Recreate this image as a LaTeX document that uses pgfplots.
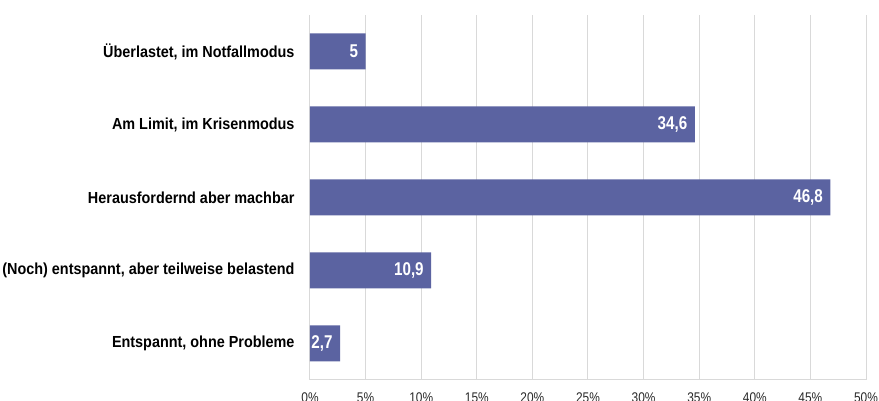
\documentclass[border=0pt]{standalone}
\usepackage{fontspec}
\setmainfont{Liberation Sans}[FakeStretch=0.85]
\newfontfamily\catfont{Liberation Sans}[FakeStretch=0.9]
\newfontfamily\valfont{Liberation Sans}[FakeStretch=0.82]
\usepackage{pgfplots}
\pgfplotsset{compat=1.18}
\definecolor{barc}{RGB}{91,99,161}
\definecolor{gridc}{RGB}{217,217,217}
\definecolor{tickc}{RGB}{40,40,40}
\begin{document}
\begin{tikzpicture}[x=1pt,y=1pt]
\useasboundingbox (0,0) rectangle (879,401);
\begin{scope}
\clip (0,0) rectangle (879,401);
\begin{axis}[
  at={(310pt,21pt)}, anchor=south west,
  scale only axis, width=556pt, height=365pt,
  xbar, bar width=36pt,
  xmin=0, xmax=50, ymin=-0.5, ymax=4.5,
  ytick={0,1,2,3,4},
  yticklabels={{Entspannt, ohne Probleme},{(Noch) entspannt, aber teilweise belastend},{Herausfordernd aber machbar},{Am Limit, im Krisenmodus},{Überlastet, im Notfallmodus}},
  xtick={0,5,...,50},
  xticklabel={\pgfmathprintnumber{\tick}\%},
  /pgf/number format/assume math mode=true,
  xmajorgrids, grid style={gridc, line width=1pt},
  axis x line*=bottom, axis y line*=left,
  x axis line style={gridc, line width=1pt, -},
  y axis line style={draw=none},
  major tick length=0pt, tick style={draw=none},
  yticklabel style={font=\catfont\bfseries\fontsize{16}{18}\selectfont, text=black, xshift=-12pt},
  xticklabel style={font=\fontsize{14}{16}\selectfont, text=tickc, yshift=-9pt},
  nodes near coords={\pgfmathprintnumber[use comma, fixed, precision=1]{\pgfplotspointmeta}},
  nodes near coords style={anchor=east, font=\valfont\bfseries\fontsize{18.5}{20}\selectfont, text=white, xshift=-4pt},
  clip=false,
]
\addplot[fill=barc, draw=none] coordinates {(2.7,0) (10.9,1) (46.8,2) (34.6,3) (5,4)};
\end{axis}
\end{scope}
\end{tikzpicture}
\end{document}
